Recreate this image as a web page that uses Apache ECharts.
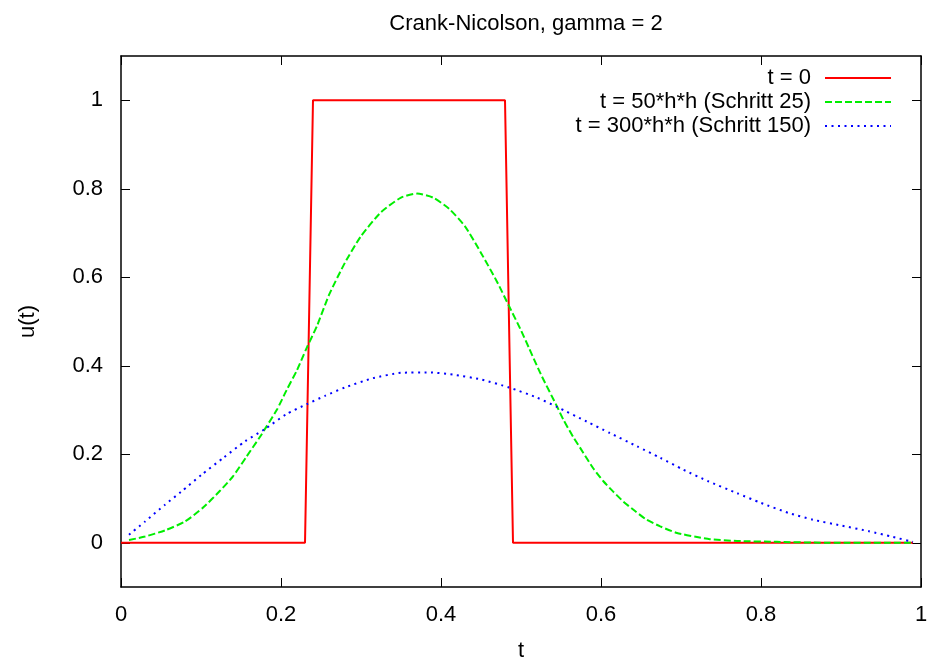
<!DOCTYPE html>
<html>
<head>
<meta charset="utf-8">
<script src="https://cdn.jsdelivr.net/npm/echarts@6/dist/echarts.min.js"></script>
<style>
  html, body { margin: 0; padding: 0; background: #fff; }
  #main { width: 931px; height: 658px; }
</style>
</head>
<body>
<div id="main"></div>
<script>
var myChart = echarts.init(document.getElementById("main"));

// t = 0 (Anfangswert, Rechteck)
var redData = [
  [0, 0], [0.23, 0], [0.24, 1], [0.48, 1], [0.49, 0], [0.99, 0],
];
// t = 50*h*h (Schritt 25)
var greenData = [
  [0.01, 0.006], [0.03, 0.014], [0.055, 0.028], [0.08, 0.048], [0.103, 0.08],
  [0.124, 0.118], [0.14, 0.15], [0.157, 0.195], [0.174, 0.24], [0.182, 0.263],
  [0.195, 0.301], [0.207, 0.345], [0.22, 0.39], [0.232, 0.44], [0.245, 0.49],
  [0.26, 0.56], [0.28, 0.633], [0.3, 0.693], [0.325, 0.747], [0.35, 0.78],
  [0.37, 0.789], [0.39, 0.78], [0.41, 0.755], [0.43, 0.715], [0.45, 0.655],
  [0.47, 0.59], [0.485, 0.535], [0.5, 0.48], [0.51, 0.44], [0.525, 0.38],
  [0.545, 0.308], [0.553, 0.278], [0.565, 0.24], [0.578, 0.203], [0.59, 0.169],
  [0.603, 0.139], [0.615, 0.116], [0.628, 0.093], [0.643, 0.071], [0.657, 0.052],
  [0.674, 0.037], [0.695, 0.022], [0.72, 0.013], [0.736, 0.008], [0.77, 0.004],
  [0.82, 0.002], [0.88, 0], [0.99, 0],
];
// t = 300*h*h (Schritt 150)
var blueData = [
  [0.01, 0.018], [0.03, 0.048], [0.055, 0.086], [0.075, 0.115], [0.101, 0.154],
  [0.128, 0.192], [0.155, 0.229], [0.18, 0.257], [0.207, 0.291], [0.232, 0.313],
  [0.255, 0.332], [0.28, 0.351], [0.315, 0.372], [0.35, 0.384], [0.385, 0.385],
  [0.415, 0.38], [0.45, 0.369], [0.485, 0.351], [0.52, 0.328], [0.545, 0.307],
  [0.582, 0.274], [0.611, 0.248], [0.645, 0.218], [0.674, 0.192], [0.703, 0.165],
  [0.734, 0.139], [0.77, 0.112], [0.8, 0.09], [0.835, 0.067], [0.865, 0.052],
  [0.9, 0.039], [0.935, 0.026], [0.965, 0.013], [0.99, 0.002],
];
var yTicks = [0, 0.2, 0.4, 0.6, 0.8, 1];
var names = ["t = 0", "t = 50*h*h (Schritt 25)", "t = 300*h*h (Schritt 150)"];

var font = "Liberation Sans";
var tickStyle = { inside: true, length: 9, lineStyle: { color: "#000", width: 1 } };
var lineBorder = { show: true, onZero: false, lineStyle: { color: "#000", width: 1.5 } };

function legendRow(name, top) {
  return {
    data: [name],
    right: 34,
    top: top,
    align: "right",
    itemWidth: 66,
    itemHeight: 14,
    itemStyle: { opacity: 0 },
    textStyle: { fontFamily: font, fontSize: 22, color: "#000", padding: [0, 9, 0, 0] },
  };
}

option = {
  backgroundColor: "#fff",
  animation: false,
  title: {
    text: "Crank-Nicolson, gamma = 2",
    left: 521,
    textAlign: "center",
    top: 8,
    textStyle: { fontFamily: font, fontSize: 22, fontWeight: "normal", color: "#000" },
  },
  legend: [legendRow(names[0], 62), legendRow(names[1], 86), legendRow(names[2], 110)],
  grid: { left: 121, right: 10, top: 56, bottom: 71, outerBoundsMode: "none", containLabel: false },
  xAxis: [
    {
      type: "value",
      min: 0,
      max: 1,
      interval: 0.2,
      name: "t",
      nameLocation: "middle",
      nameGap: 53,
      nameTextStyle: { fontFamily: font, fontSize: 22, color: "#000" },
      axisLine: lineBorder,
      axisTick: tickStyle,
      splitLine: { show: false },
      axisLabel: { fontFamily: font, fontSize: 22, color: "#000", margin: 17 },
    },
    {
      type: "value",
      position: "top",
      min: 0,
      max: 1,
      interval: 0.2,
      axisLine: lineBorder,
      axisTick: tickStyle,
      splitLine: { show: false },
      axisLabel: { show: false },
    },
  ],
  yAxis: [
    {
      type: "value",
      min: -0.1,
      max: 1.1,
      name: "u(t)",
      nameLocation: "middle",
      nameGap: 82,
      nameTextStyle: { fontFamily: font, fontSize: 22, color: "#000" },
      axisLine: lineBorder,
      axisTick: Object.assign({ customValues: yTicks }, tickStyle),
      splitLine: { show: false },
      axisLabel: { customValues: yTicks, fontFamily: font, fontSize: 22, color: "#000", margin: 18 },
    },
    {
      type: "value",
      position: "right",
      min: -0.1,
      max: 1.1,
      axisLine: lineBorder,
      axisTick: Object.assign({ customValues: yTicks }, tickStyle),
      splitLine: { show: false },
      axisLabel: { show: false },
    },
  ],
  series: [
    {
      name: names[0],
      type: "line",
      data: redData,
      symbol: "none",
      color: "#ff0000",
      lineStyle: { color: "#ff0000", width: 2 },
    },
    {
      name: names[1],
      type: "line",
      data: greenData,
      symbol: "none",
      smooth: 0.2,
      color: "#00ee00",
      lineStyle: { color: "#00ee00", width: 2, type: [7, 3] },
    },
    {
      name: names[2],
      type: "line",
      data: blueData,
      symbol: "none",
      smooth: 0.2,
      color: "#0000ff",
      lineStyle: { color: "#0000ff", width: 2, type: [2, 4.5] },
    },
  ],
};
myChart.setOption(option);
</script>
</body>
</html>
